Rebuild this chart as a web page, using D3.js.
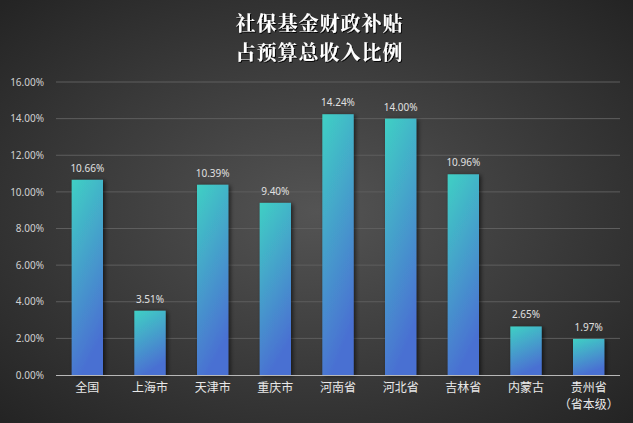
<!DOCTYPE html>
<html><head><meta charset="utf-8">
<script src="https://cdn.jsdelivr.net/npm/d3@7"></script>
<style>html,body{margin:0;padding:0;background:#333;}svg{display:block;}</style>
</head><body>
<script>
const categories = ["全国","上海市","天津市","重庆市","河南省","河北省","吉林省","内蒙古","贵州省\n（省本级）"];
const values = [10.66,3.51,10.39,9.40,14.24,14.00,10.96,2.65,1.97];
const yTicks = [0,2,4,6,8,10,12,14,16];
const titleLines = ["社保基金财政补贴","占预算总收入比例"];

const W=633,H=423;
const svg=d3.select("body").append("svg").attr("width",W).attr("height",H);
const defs=svg.append("defs");
const bg=defs.append("radialGradient").attr("id","bg").attr("cx","50%").attr("cy","50%").attr("r","70%");
bg.append("stop").attr("offset","0%").attr("stop-color","#545454");
bg.append("stop").attr("offset","100%").attr("stop-color","#242424");
const bar=defs.append("linearGradient").attr("id","barg").attr("x1","0").attr("y1","0").attr("x2","0.3").attr("y2","1");
bar.append("stop").attr("offset","0%").attr("stop-color","#40d0c4");
bar.append("stop").attr("offset","100%").attr("stop-color","#4a70d2");
const sh=defs.append("filter").attr("id","sh").attr("x","-30%").attr("y","-10%").attr("width","160%").attr("height","120%");
sh.append("feDropShadow").attr("dx",2).attr("dy",1).attr("stdDeviation",2).attr("flood-color","#000").attr("flood-opacity",0.6);
const tsh=defs.append("filter").attr("id","tsh");
tsh.append("feDropShadow").attr("dx",1).attr("dy",1).attr("stdDeviation",0.6).attr("flood-color","#000").attr("flood-opacity",0.9);

svg.append("rect").attr("width",W).attr("height",H).attr("fill","url(#bg)");

const x=d3.scaleBand().domain(categories).range([56,620]).paddingInner(0.5).paddingOuter(0.25);
const y=d3.scaleLinear().domain([0,16]).range([375,82]);

// grid
svg.append("g").selectAll("line").data(yTicks.filter(d=>d>0)).join("line")
  .attr("x1",56).attr("x2",620).attr("y1",d=>y(d)).attr("y2",d=>y(d))
  .attr("stroke","#5e5e5e").attr("stroke-width",1);

// y axis labels
const ya=svg.append("g").attr("transform","translate(44,0)")
  .call(d3.axisLeft(y).tickValues(yTicks).tickSize(0).tickPadding(0).tickFormat(d=>d.toFixed(2)+"%"));
ya.select(".domain").remove();
ya.selectAll("text").attr("fill","#d0d0d0").attr("font-size","10px").attr("font-family","'Noto Sans', sans-serif");

// bars
svg.append("g").selectAll("rect").data(values).join("rect")
  .attr("x",(d,i)=>x(categories[i])).attr("width",x.bandwidth())
  .attr("y",d=>y(d)).attr("height",d=>y(0)-y(d))
  .attr("fill","url(#barg)").attr("filter","url(#sh)");

// baseline
svg.append("line").attr("x1",56).attr("x2",620).attr("y1",y(0)+0.5).attr("y2",y(0)+0.5).attr("stroke","#b8b8b8").attr("stroke-width",1);

// value labels
svg.append("g").selectAll("text").data(values).join("text")
  .attr("x",(d,i)=>x(categories[i])+x.bandwidth()/2).attr("y",d=>y(d)-8)
  .attr("text-anchor","middle").attr("fill","#e0e0e0").attr("font-size","10px")
  .attr("font-family","'Noto Sans', sans-serif").text(d=>d.toFixed(2)+"%");

// category labels
const cl=svg.append("g").selectAll("text").data(categories).join("text")
  .attr("x",d=>x(d)+x.bandwidth()/2).attr("y",392)
  .attr("text-anchor","middle").attr("fill","#e8e8e8").attr("font-size","12px")
  .attr("font-family","'Noto Sans CJK SC', sans-serif");
cl.each(function(d){
  const lines=d.split("\n");
  d3.select(this).selectAll("tspan").data(lines).join("tspan")
    .attr("x",x(d)+x.bandwidth()/2).attr("dy",(l,i)=>i===0?0:17).text(l=>l);
});

// title
svg.append("g").selectAll("text").data(titleLines).join("text")
  .attr("x",W/2+3).attr("y",(d,i)=>31+i*29).attr("text-anchor","middle")
  .attr("fill","#ffffff").attr("font-size","20px").attr("font-weight","bold")
  .attr("font-family","'Noto Serif CJK SC','Noto Sans CJK SC', serif").attr("letter-spacing","1px")
  .attr("filter","url(#tsh)").text(d=>d);
</script>
</body></html>
